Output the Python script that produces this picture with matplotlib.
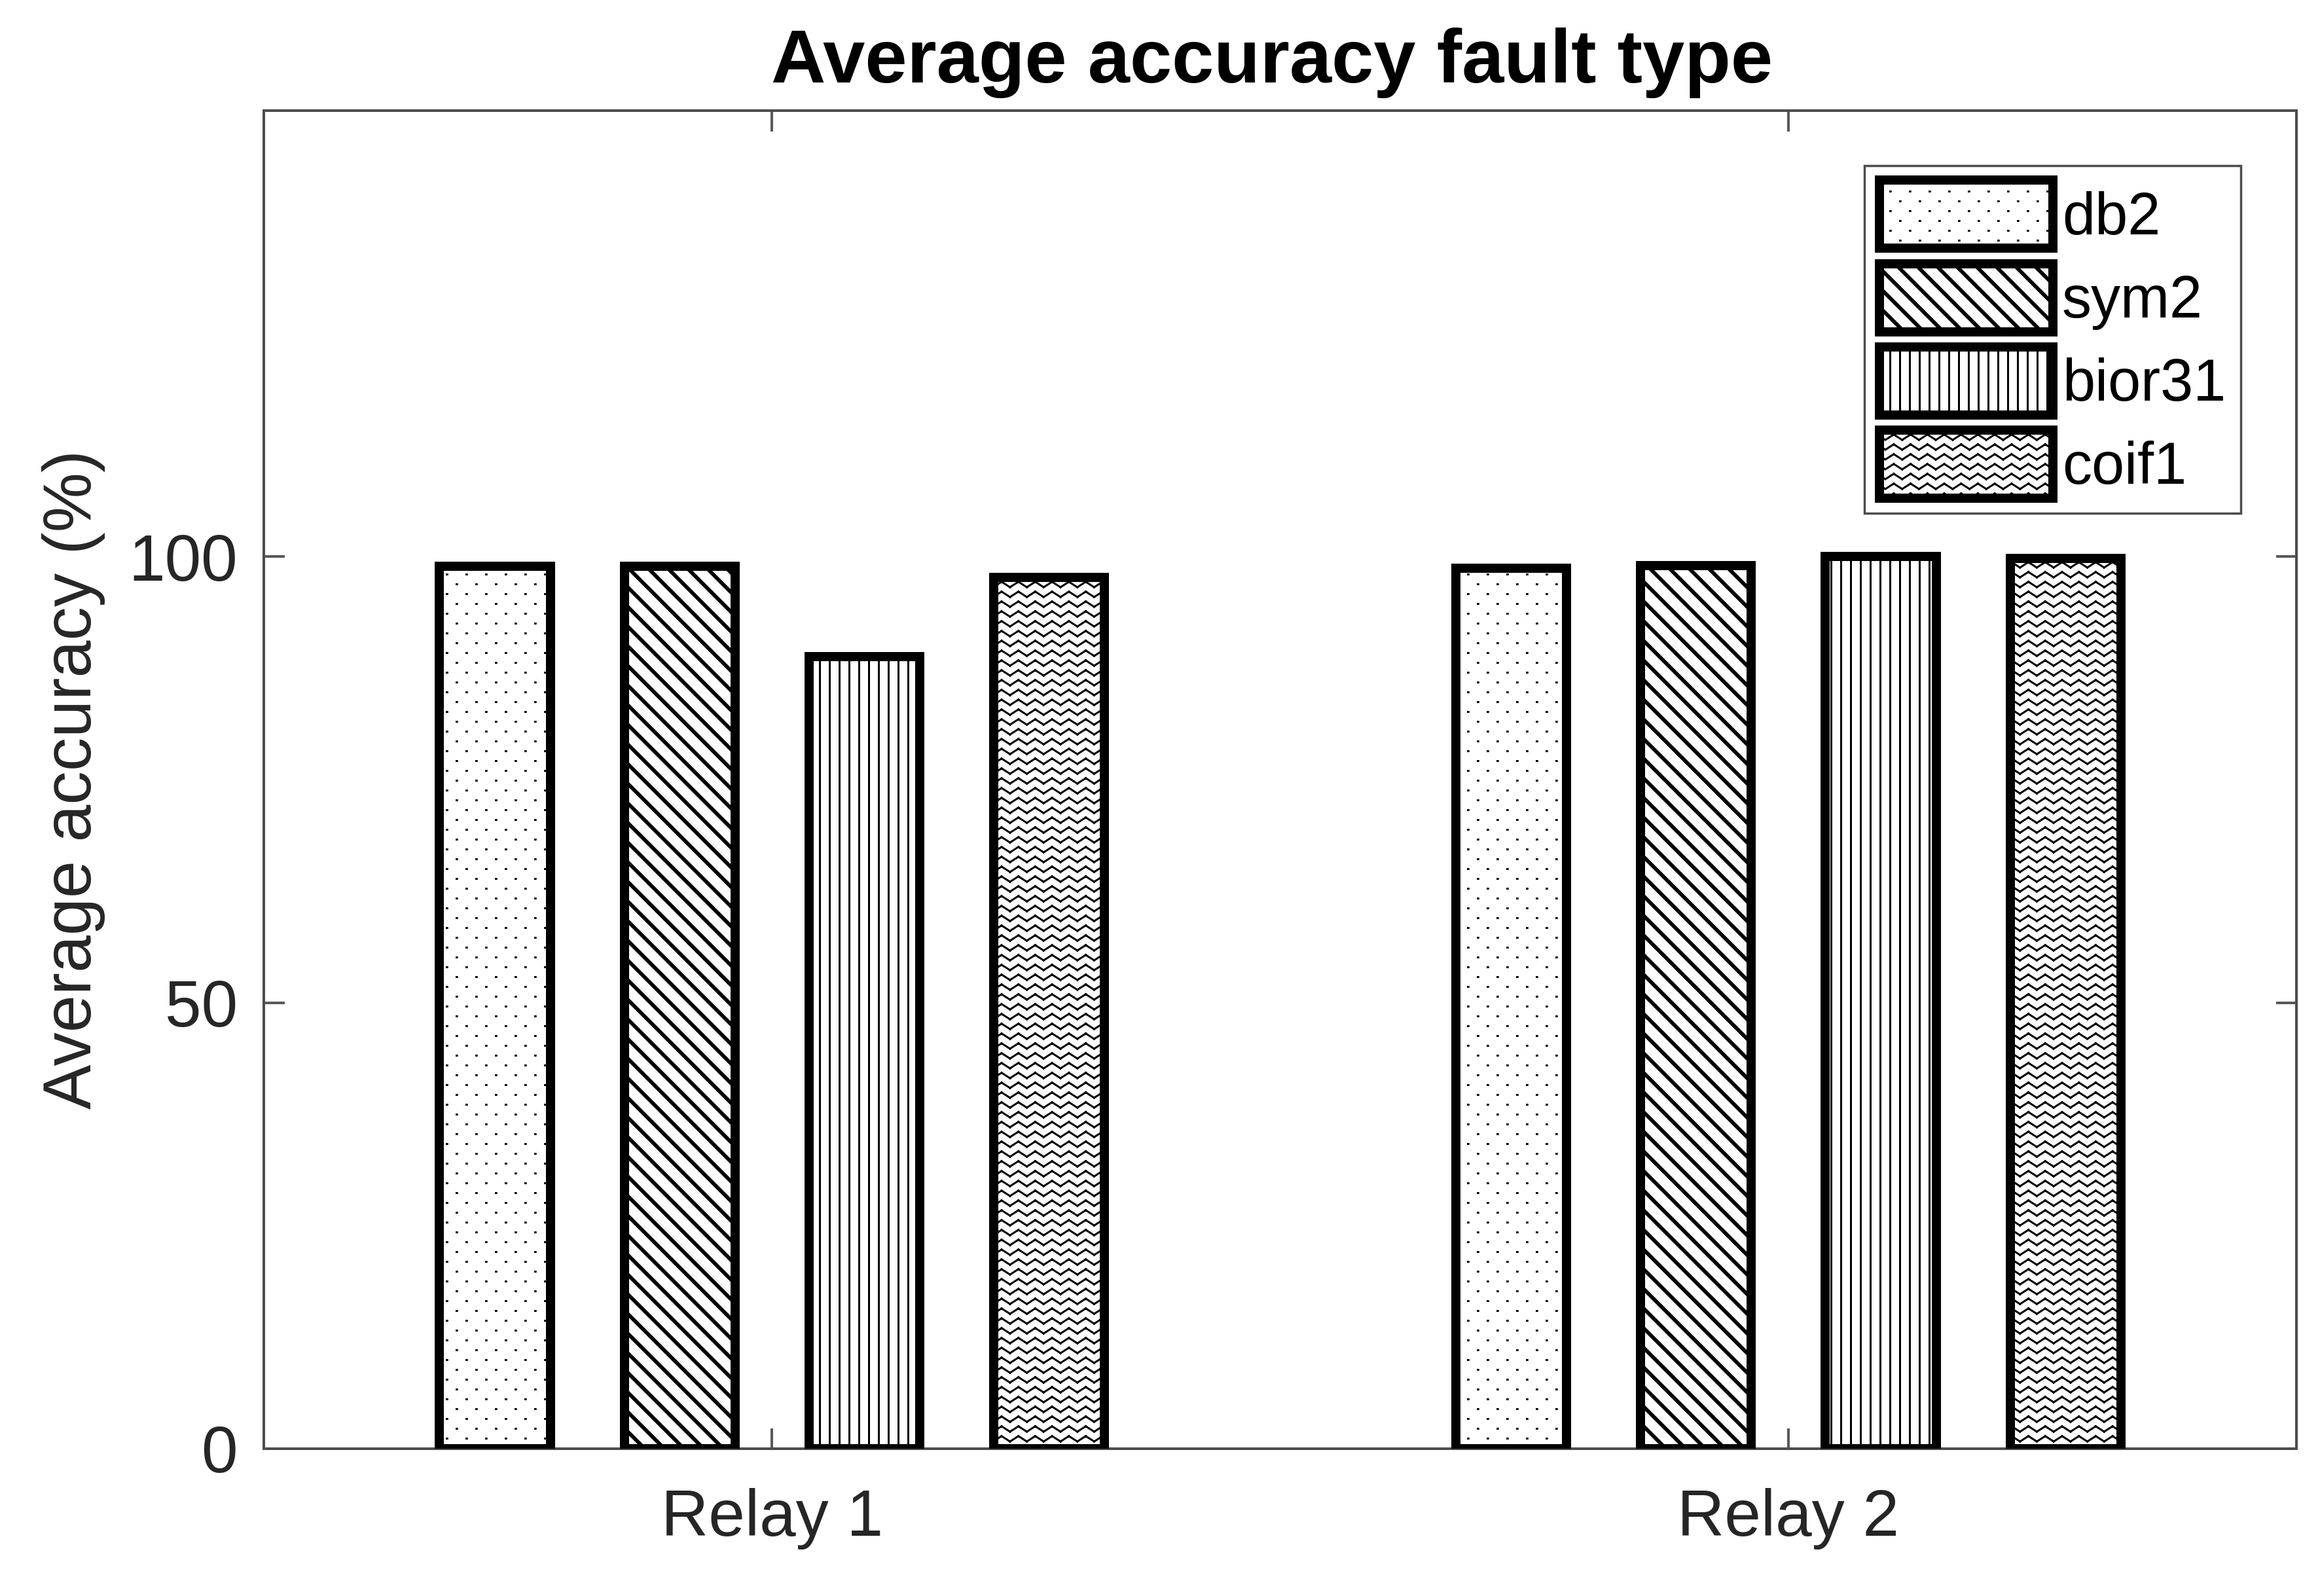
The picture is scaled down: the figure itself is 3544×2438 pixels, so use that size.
import numpy as np
import matplotlib
matplotlib.use('Agg')
import matplotlib.pyplot as plt
from matplotlib import hatch as mhatch

# data
groups = ['Relay 1', 'Relay 2']
series = ['db2', 'sym2', 'bior31', 'coif1']
acc_db2 = [98.9, 98.7]
acc_sym2 = [98.9, 99.0]
acc_bior31 = [88.8, 100.0]
acc_coif1 = [97.7, 99.8]
yticks = [0, 50, 100]


class DotHatch(mhatch.HatchPatternBase):                         # small square dots, staggered rows
    def __init__(self, hatch, density):
        self.num_rows = hatch.count('.') * density
        self.num_cols = self.num_rows // 2
        self.num_vertices = self.num_rows * self.num_cols * 2

    def set_vertices_and_codes(self, vertices, codes):
        k = 0
        for r in range(self.num_rows):
            y = (r + 0.5) / self.num_rows
            for c in range(self.num_cols):
                x = (c + 0.25 + 0.5 * (r % 2)) / self.num_cols
                vertices[k] = (x, y)
                vertices[k + 1] = (x + 0.002, y)
                codes[k] = mhatch.Path.MOVETO
                codes[k + 1] = mhatch.Path.LINETO
                k += 2


class ThickDiagHatch(mhatch.HatchPatternBase):                   # '\' stripes drawn as doubled lines
    def __init__(self, hatch, density):
        self.num_lines = int((hatch.count('\\') + hatch.count('x') + hatch.count('X')) * density)
        self.num_vertices = (self.num_lines + 1) * 4 if self.num_lines else 0

    def set_vertices_and_codes(self, vertices, codes):
        steps = np.linspace(-0.5, 0.5, self.num_lines + 1)
        k = 0
        for d in (0.0, 0.011):
            for s in steps:
                vertices[k] = (0.0 + s + d, 1.0 + s)
                vertices[k + 1] = (1.0 + s + d, 0.0 + s)
                codes[k] = mhatch.Path.MOVETO
                codes[k + 1] = mhatch.Path.LINETO
                k += 2


class ZigZagHatch(mhatch.HatchPatternBase):                      # wavy rows for coif1
    def __init__(self, hatch, density):
        self.num_rows = hatch.count('O') * density
        self.num_peaks = int(self.num_rows * 0.6)
        self.num_vertices = self.num_rows * self.num_peaks * 4

    def set_vertices_and_codes(self, vertices, codes):
        k = 0
        step = 1.0 / self.num_peaks
        amp = 0.55 / self.num_rows
        for r in range(self.num_rows):
            y0 = (r + 0.2) / self.num_rows
            for p in range(self.num_peaks):
                x0 = p * step
                pts = [(x0, y0), (x0 + step / 2, y0 + amp), (x0 + step / 2, y0 + amp), (x0 + step, y0)]
                for i, pt in enumerate(pts):
                    vertices[k + i] = pt
                    codes[k + i] = mhatch.Path.MOVETO if i % 2 == 0 else mhatch.Path.LINETO
                k += 4


types = mhatch._hatch_types
types[types.index(mhatch.SmallFilledCircles)] = DotHatch
types[types.index(mhatch.SouthEastHatch)] = ThickDiagHatch
types[types.index(mhatch.LargeCircles)] = ZigZagHatch

plt.rcParams['font.family'] = ['Liberation Sans', 'DejaVu Sans']
plt.rcParams['hatch.linewidth'] = 0.6

fig = plt.figure(figsize=(3545 / 360, 2438 / 360), dpi=360)
ax = fig.add_axes([0.1137, 0.0923, 0.8759, 0.8384])

values = [acc_db2, acc_sym2, acc_bior31, acc_coif1]
hatches = ['....', '\\\\\\\\', '||||', 'OOOO']
x = np.arange(1, len(groups) + 1)
n = len(series)
gw = min(0.8, n / (n + 1.5))
step = gw / n
width = 0.6 * step

for i, (name, vals, h) in enumerate(zip(series, values, hatches)):
    off = (i - (n - 1) / 2) * step
    ax.bar(x + off, vals, width, color='white', edgecolor='black',
           linewidth=2.8, hatch=h, label=name, zorder=3)

ax.set_xlim(0.5, 2.5)
ax.set_ylim(0, 150)
ax.set_xticks(x)
ax.set_xticklabels(groups)
ax.set_yticks(yticks)

for sp in ax.spines.values():
    sp.set_color('0.3')
    sp.set_linewidth(0.8)
ax.tick_params(direction='in', top=True, right=True, length=6.3, width=0.8,
               color='0.35', labelcolor='0.15', labelsize=20)
ax.tick_params(axis='x', pad=12)
ax.tick_params(axis='y', pad=8)

ax.set_ylabel('Average accuracy (%)', fontsize=20.5, color='0.15', labelpad=7)
ax.set_title('Average accuracy fault type', fontsize=23.1, fontweight='bold', pad=8.5, x=0.496)

leg = ax.legend(loc='upper right', bbox_to_anchor=(0.9725, 0.959), borderaxespad=0,
                fontsize=18, handlelength=2.95, handleheight=1.4, handletextpad=0.15,
                labelspacing=0.26, borderpad=0.25, fancybox=False, framealpha=1)
leg.get_frame().set_edgecolor('0.3')
leg.get_frame().set_linewidth(0.7)

fig.savefig('out.png', dpi=360, facecolor='white')
